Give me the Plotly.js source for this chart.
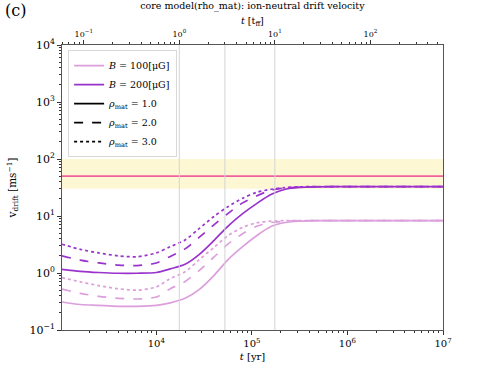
<!DOCTYPE html>
<html>
<head>
<meta charset="utf-8">
<script src="https://cdn.plot.ly/plotly-3.0.1.min.js"></script>
<style>
  html, body { margin: 0; padding: 0; background: #fff; }
  #chartHanger { width: 493px; height: 370px; }
</style>
</head>
<body>
<div id="chartHanger"></div>
<script>
// time grid [yr]
const tYr = [1030, 1600, 2500, 4000, 6300, 10000, 14000, 20000, 28000, 40000,
  56000, 80000, 112000, 160000, 224000, 316000, 500000, 1e6, 3e6, 1e7];

// drift velocity [m/s], B = 200 uG
const vB200rho1 = [1.16, 1.07, 1.02, 0.99, 0.99, 1.02, 1.18, 1.42, 2.1, 3.7,
  6.6, 11, 16.5, 24, 29.5, 31.8, 32.5, 32.7, 32.7, 32.7];
const vB200rho2 = [2.0, 1.68, 1.5, 1.38, 1.35, 1.5, 1.95, 2.65, 4.2, 7.0,
  11, 17, 22.5, 28.5, 31, 32.3, 32.7, 32.7, 32.7, 32.7];
const vB200rho3 = [3.2, 2.6, 2.25, 2.0, 1.93, 2.25, 2.9, 3.8, 6.0, 9.8,
  14.5, 20.5, 26, 29.5, 31.5, 32.5, 32.8, 32.8, 32.8, 32.8];

// drift velocity [m/s], B = 100 uG
const vB100rho1 = [0.31, 0.28, 0.27, 0.26, 0.26, 0.27, 0.30, 0.36, 0.51, 0.9,
  1.7, 2.9, 4.5, 6.6, 7.7, 8.1, 8.3, 8.3, 8.3, 8.3];
const vB100rho2 = [0.52, 0.44, 0.39, 0.36, 0.35, 0.38, 0.53, 0.71, 1.1, 1.9,
  3.2, 4.9, 6.6, 7.7, 8.1, 8.3, 8.3, 8.3, 8.3, 8.3];
const vB100rho3 = [0.83, 0.7, 0.6, 0.53, 0.5, 0.57, 0.8, 1.05, 1.7, 2.8,
  4.5, 6.3, 7.6, 8.1, 8.3, 8.3, 8.3, 8.3, 8.3, 8.3];

// reference level and band [m/s], marked times [t_ff]
const vRef = 50;
const vBand = [30, 100];
const tffMarks = [1, 3, 10];

// tick labels
const xTickVals = [1e4, 1e5, 1e6, 1e7];
const xTickText = ["10<sup>4</sup>", "10<sup>5</sup>", "10<sup>6</sup>", "10<sup>7</sup>"];
const x2TickVals = [0.1, 1, 10, 100];
const x2TickText = ["10<sup>−1</sup>", "10<sup>0</sup>", "10<sup>1</sup>", "10<sup>2</sup>"];
const yTickVals = [0.1, 1, 10, 100, 1000, 10000];
const yTickText = ["10<sup>−1</sup>", "10<sup>0</sup>", "10<sup>1</sup>",
  "10<sup>2</sup>", "10<sup>3</sup>", "10<sup>4</sup>"];

const colB100 = "#dc9fdc";
const colB200 = "#9933cc";
const tRange = [tYr[0], tYr[tYr.length - 1]];
const tffPerYr = 1 / 17400; // t_ff of the core

const traces = [];

// yellow band
traces.push({
  x: [tRange[0], tRange[1], tRange[1], tRange[0]],
  y: [vBand[0], vBand[0], vBand[1], vBand[1]],
  fill: "toself",
  fillcolor: "#fdf7d4",
  line: { width: 0 },
  mode: "lines",
  showlegend: false,
  hoverinfo: "skip",
});

// gray vertical marks on the t_ff axis
tffMarks.forEach((m) => {
  traces.push({
    x: [m, m],
    y: [0.1, 1e4],
    xaxis: "x2",
    mode: "lines",
    line: { color: "#d4d4d4", width: 1 },
    showlegend: false,
    hoverinfo: "skip",
  });
});

// reference line
traces.push({
  x: tRange,
  y: [vRef, vRef],
  mode: "lines",
  line: { color: "#f0609e", width: 1.6 },
  showlegend: false,
});

const curves = [
  [vB100rho1, colB100, "solid"],
  [vB100rho2, colB100, "dash"],
  [vB100rho3, colB100, "dot"],
  [vB200rho1, colB200, "solid"],
  [vB200rho2, colB200, "dash"],
  [vB200rho3, colB200, "dot"],
];
curves.forEach(([v, c, d]) => {
  traces.push({
    x: tYr,
    y: v,
    mode: "lines",
    line: { color: c, width: 1.7, dash: d, shape: "spline", smoothing: 0.8 },
    showlegend: false,
  });
});

// legend-only entries
const legendItems = [
  ["<i>B</i> = 100[μG]", colB100, "solid"],
  ["<i>B</i> = 200[μG]", colB200, "solid"],
  ["<i>ρ</i><sub>mat</sub> = 1.0", "black", "solid"],
  ["<i>ρ</i><sub>mat</sub> = 2.0", "black", "dash"],
  ["<i>ρ</i><sub>mat</sub> = 3.0", "black", "dot"],
];
legendItems.forEach(([name, c, d]) => {
  traces.push({
    x: [null],
    y: [null],
    mode: "lines",
    name: name,
    line: { color: c, width: 1.7, dash: d },
  });
});

const lt0 = Math.log10(tRange[0]);
const lt1 = Math.log10(tRange[1]);
const lOff = Math.log10(tffPerYr);

// minor tick positions (2..9 x 10^k) inside a log range
const minorVals = (lo, hi) => {
  const out = [];
  for (let e = Math.floor(lo); e <= Math.ceil(hi); e++) {
    for (let k = 2; k <= 9; k++) {
      const l = Math.log10(k) + e;
      if (l >= lo && l <= hi) out.push(k * Math.pow(10, e));
    }
  }
  return out;
};
const minorOf = (lo, hi) => ({
  tickmode: "array",
  tickvals: minorVals(lo, hi),
  ticks: "outside",
  ticklen: 2,
  tickcolor: "#333",
  showgrid: false,
});

const serif = "DejaVu Serif, Liberation Serif, serif";
const layout = {
  width: 493,
  height: 370,
  margin: { l: 62, r: 50, t: 45, b: 40 },
  paper_bgcolor: "#fff",
  plot_bgcolor: "#fff",
  font: { family: serif, size: 11, color: "#000" },
  showlegend: true,
  title: {
    text: "core model(rho_mat): ion-neutral drift velocity",
    font: { family: serif, size: 9.5 },
    x: 0.512,
    xanchor: "center",
    y: 0.999,
    yanchor: "top",
    pad: { t: 2 },
  },
  xaxis: {
    type: "log",
    range: [lt0, lt1],
    tickmode: "array",
    tickvals: xTickVals,
    ticktext: xTickText,
    showgrid: false,
    zeroline: false,
    ticks: "outside",
    ticklen: 4,
    tickcolor: "#333",
    showline: true,
    linecolor: "#555",
    minor: minorOf(lt0, lt1),
    tickfont: { size: 10 },
    title: { text: "<i>t</i> [yr]", font: { size: 10 }, standoff: 4 },
  },
  xaxis2: {
    type: "log",
    overlaying: "x",
    side: "top",
    anchor: "y",
    range: [lt0 + lOff, lt1 + lOff],
    tickmode: "array",
    tickvals: x2TickVals,
    ticktext: x2TickText,
    showgrid: false,
    zeroline: false,
    ticks: "outside",
    ticklen: 4,
    tickcolor: "#333",
    showline: true,
    linecolor: "#555",
    minor: minorOf(lt0 + lOff, lt1 + lOff),
    tickfont: { size: 8 },
  },
  yaxis: {
    type: "log",
    range: [-1, 4],
    tickmode: "array",
    tickvals: yTickVals,
    ticktext: yTickText,
    showgrid: false,
    zeroline: false,
    ticks: "outside",
    ticklen: 4,
    tickcolor: "#333",
    showline: true,
    linecolor: "#555",
    mirror: true,
    minor: minorOf(-1, 4),
    tickfont: { size: 11 },
    title: { text: "v<sub>drift</sub> [ms<sup>−1</sup>]", font: { size: 10.5 }, standoff: 10 },
  },
  legend: {
    x: 0.016,
    y: 0.982,
    xanchor: "left",
    yanchor: "top",
    bgcolor: "rgba(255,255,255,0.85)",
    bordercolor: "#d8d8d8",
    borderwidth: 1,
    itemwidth: 30,
    font: { family: serif, size: 9.5, color: "#000" },
    tracegroupgap: 0,
  },
  annotations: [
    {
      text: "(c)",
      xref: "paper",
      yref: "paper",
      x: -0.155,
      y: 1.16,
      xanchor: "left",
      yanchor: "top",
      showarrow: false,
      font: { family: serif, size: 16 },
    },
    {
      // top axis title
      text: "<i>t</i> [t<sub>ff</sub>]",
      xref: "paper",
      yref: "paper",
      x: 0.5,
      y: 1.081,
      xanchor: "center",
      yanchor: "middle",
      showarrow: false,
      font: { family: serif, size: 9.5 },
    },
  ],
};

Plotly.newPlot(document.getElementById("chartHanger"), traces, layout, {
  displayModeBar: false,
  staticPlot: true,
});
</script>
</body>
</html>
